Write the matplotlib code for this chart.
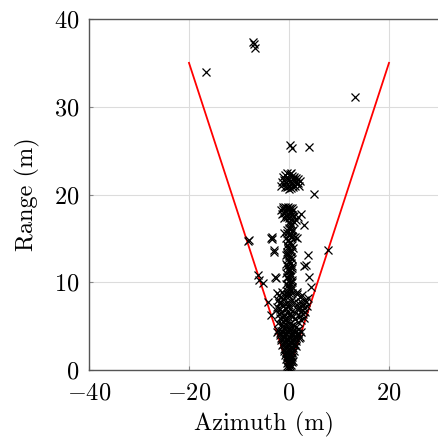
import matplotlib
matplotlib.use("Agg")
import matplotlib.pyplot as plt
import numpy as np

plt.rcParams['font.family'] = 'serif'
plt.rcParams['font.serif'] = ['cmr10', 'DejaVu Serif']
plt.rcParams['mathtext.fontset'] = 'cm'
plt.rcParams['axes.formatter.use_mathtext'] = True

# Field-of-view boundary (red lines), apex at origin
fov_az_left = [0.0, -20.0]
fov_rng_left = [0.0, 35.0]
fov_az_right = [0.0, 20.0]
fov_rng_right = [0.0, 35.0]

# Detections (x markers)
az_out = [-7.3, -7.0, -6.9, -16.7, 13.2, 0.1, 0.5, 4.0, 4.9, 7.7, -8.3, -8.0, 3.7, 3.0, 3.3,
          4.0, 4.3, -6.3, -6.0, -5.3, -4.3, -3.7, -2.8, -2.7, -3.0, -3.7, -3.5]
rng_out = [37.4, 37.2, 36.7, 34.0, 31.1, 25.6, 25.3, 25.4, 20.1, 13.7, 14.7, 14.8, 13.1, 11.8, 12.0,
           10.6, 9.5, 10.8, 10.3, 9.9, 7.8, 6.3, 10.6, 10.5, 13.7, 15.0, 15.1]

az_c1 = [-1.5, -1.0, -0.6, -0.2, 0.2, 0.6, 1.0, 1.4, 1.8, 2.2, -1.2, -0.8, -0.3, 0.1, 0.5,
         0.9, 1.3, 1.7, -0.9, -0.4, 0.0, 0.4, 0.8, 1.2, -0.5, 0.3, 0.7, -1.6, 2.0, 0.0]
rng_c1 = [21.4, 21.6, 21.3, 21.7, 21.5, 21.2, 21.6, 21.4, 21.3, 21.5, 22.0, 22.2, 21.9, 22.3, 22.1,
          22.0, 21.9, 21.8, 20.9, 20.8, 21.0, 20.7, 20.9, 21.0, 22.4, 22.4, 21.8, 21.0, 21.0, 20.6]

az_c2 = [-1.6, -1.2, -0.8, -0.4, 0.0, 0.4, 0.8, -1.4, -1.0, -0.6, -0.2, 0.2, 0.6, -1.2, -0.8,
         -0.3, 0.1, 0.5, -0.5, 0.0, 1.0, -1.0]
rng_c2 = [18.2, 18.4, 18.1, 18.5, 18.3, 18.0, 18.2, 17.8, 17.9, 17.7, 17.8, 17.6, 17.7, 18.6, 18.6,
          18.6, 18.5, 18.5, 17.4, 17.3, 17.6, 17.3]

az_mid = [2.3, 1.3, 3.0, 0.7, -1.0, 1.5, 1.2, 0.2, -3.5, -3.0, 1.0, 1.7]
rng_mid = [17.8, 17.1, 16.5, 16.0, 15.6, 15.0, 15.2, 16.8, 14.9, 13.5, 16.9, 17.4]

az_col = [-0.5, 0.4, -0.3, 0.6, -0.6, 0.2, 0.0, 0.5, -0.4, 0.3, -0.7, 0.1, 0.2, -0.2, -0.5, 0.6,
          0.4, -0.1, -0.3, 0.5, 0.0, -0.6, 0.3, -0.4, -0.2, 0.7, 0.5, -0.5, 0.1, -0.3, -0.6, 0.4,
          0.2, -0.1, 0.6, -0.4, 0.0, 0.3]
rng_col = [9.0, 9.1, 9.4, 9.5, 9.8, 9.9, 10.2, 10.3, 10.6, 10.7, 11.0, 11.1, 11.4, 11.5, 11.8, 11.9,
           12.2, 12.3, 12.6, 12.7, 13.0, 13.1, 13.4, 13.5, 13.8, 13.9, 14.2, 14.3, 14.6, 14.7, 15.0, 15.1,
           15.4, 15.5, 15.8, 15.9, 16.2, 16.4]

az_col2 = [0.1, -0.2, 0.5, -0.5, 0.2, -0.1, 0.6, -0.6, 0.0, 0.4, -0.4, 0.3, -0.3, 0.1, -0.2, 0.5,
           -0.5, 0.2, 0.0, -0.3, 0.4, -0.1]
rng_col2 = [9.25, 9.65, 10.05, 10.45, 10.85, 11.25, 11.65, 12.05, 12.45, 12.85, 13.25, 13.65, 14.05,
            14.45, 14.85, 15.25, 15.65, 16.05, 8.75, 8.5, 16.6, 16.9]

az_low = [-2.5, -2.0, -1.5, -1.0, -2.2, -1.7, -1.2, -2.4, -1.9, -1.4, -0.9, -2.1, -1.6, -1.1, -2.6,
          -1.8, -1.3, -2.3, -1.5, -0.8,
          1.6, 2.1, 2.6, 3.1, 1.8, 2.3, 2.8, 3.3, 1.5, 2.0, 2.5, 3.0, 3.5, 1.7, 2.2, 2.7, 3.2, 2.4,
          2.9, 3.8,
          -0.5, 0.0, 0.5, -0.3, 0.3, -0.6, 0.1, 0.6, -0.2, 0.4, -0.4, 0.2]
rng_low = [8.8, 8.6, 8.9, 8.5, 8.0, 7.8, 8.1, 7.2, 7.0, 7.4, 7.1, 6.4, 6.5, 6.2, 6.8, 5.9, 5.6, 5.4,
           5.2, 5.8,
           8.7, 8.3, 8.5, 8.0, 7.6, 7.8, 7.4, 7.7, 6.9, 7.0, 6.8, 7.1, 7.3, 6.3, 6.1, 6.4, 6.6, 5.7,
           5.9, 8.2,
           8.7, 8.4, 8.8, 7.7, 7.9, 6.9, 7.1, 6.7, 6.0, 6.2, 5.5, 5.3]

az_low2 = [-1.2, -0.7, -0.2, 0.3, 0.8, 1.3, -1.5, -1.0, -0.4, 0.2, 0.7, 1.2, 1.8, -2.0, -0.9,
           0.0, 1.0, 2.0, -1.8, 1.6]
rng_low2 = [5.0, 5.1, 4.9, 5.0, 5.1, 4.9, 6.0, 6.3, 6.5, 6.4, 6.2, 5.8, 5.5, 7.6, 7.5,
            7.4, 7.8, 7.2, 8.3, 8.9]

az_cone = [-2.2, -1.6, -1.0, -0.4, 0.2, 0.8, 1.4, 2.0, -1.9, -1.3, -0.7, -0.1, 0.5, 1.1, 1.7, 2.2,
           -1.6, -1.0, -0.4, 0.2, 0.8, 1.4, -1.4, -0.8, -0.2, 0.4, 1.0, 1.3, -1.1, -0.6, 0.0, 0.6, 1.0,
           -0.9, -0.4, 0.1, 0.6, -0.7, -0.2, 0.3, 0.7, -0.5, 0.0, 0.5, -0.4, 0.1, 0.4, -0.2, 0.2, 0.0]
rng_cone = [4.6, 4.4, 4.7, 4.5, 4.6, 4.4, 4.5, 4.7, 4.0, 3.9, 4.1, 3.8, 4.0, 3.9, 4.1, 3.8,
            3.4, 3.3, 3.5, 3.2, 3.4, 3.3, 2.8, 2.7, 2.9, 2.6, 2.8, 2.7, 2.2, 2.1, 2.3, 2.0, 2.2,
            1.7, 1.6, 1.8, 1.5, 1.2, 1.1, 1.3, 1.0, 0.8, 0.7, 0.9, 0.5, 0.4, 0.6, 0.3, 0.2, 0.1]

az_cone2 = [-2.5, -1.9, -1.3, -0.7, -0.1, 0.5, 1.1, 1.7, 2.3, -1.7, -1.1, -0.5, 0.1, 0.7, 1.3, 1.9,
            -1.3, -0.7, -0.1, 0.5, 1.1, -1.0, -0.4, 0.2, 0.8, -0.7, -0.1, 0.5, -0.5, 0.1, -0.3, 0.3]
rng_cone2 = [4.3, 4.2, 4.3, 4.2, 4.3, 4.2, 4.3, 4.2, 4.3, 3.6, 3.7, 3.6, 3.7, 3.6, 3.7, 3.6,
             3.0, 3.1, 3.0, 3.1, 3.0, 2.45, 2.5, 2.4, 2.5, 1.9, 2.0, 1.9, 1.4, 1.45, 0.95, 1.0]

x_ticks = [-40, -20, 0, 20]
y_ticks = [0, 10, 20, 30, 40]

fig = plt.figure(figsize=(4.38, 4.38), dpi=100)
ax = fig.add_axes([89/438, 68/438, 351/438, 351/438])

ax.plot(fov_az_left, fov_rng_left, color='red', lw=1.3, zorder=2)
ax.plot(fov_az_right, fov_rng_right, color='red', lw=1.3, zorder=2)

for az, rg in [(az_out, rng_out), (az_c1, rng_c1), (az_c2, rng_c2), (az_mid, rng_mid),
               (az_col, rng_col), (az_col2, rng_col2), (az_low, rng_low), (az_low2, rng_low2),
               (az_cone, rng_cone), (az_cone2, rng_cone2)]:
    ax.plot(az, rg, linestyle='none', marker='x', markersize=5.8, markeredgewidth=0.9,
            color='black', zorder=3)

ax.set_xlim(-40, 30.2)
ax.set_ylim(0, 40)
ax.set_xticks(x_ticks)
ax.set_yticks(y_ticks)
ax.grid(True, color='#dcdcdc', lw=0.8, zorder=0)
ax.set_axisbelow(True)
ax.tick_params(direction='in', length=3, color='#888888', labelsize=17.5)
ax.tick_params(axis='x', pad=9)
ax.tick_params(axis='y', pad=7)
for s in ax.spines.values():
    s.set_color('#555555')
    s.set_linewidth(1.0)
ax.spines['right'].set_visible(False)

ax.set_xlabel('Azimuth (m)', fontsize=17.5, labelpad=5)
ax.set_ylabel('Range (m)', fontsize=17.5, labelpad=10)

fig.savefig('out.png', dpi=100)
